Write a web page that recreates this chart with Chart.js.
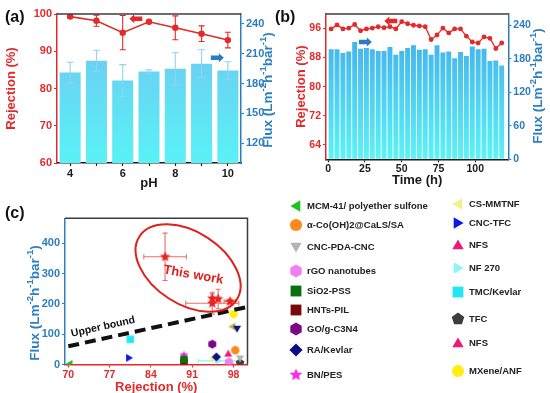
<!DOCTYPE html>
<html>
<head>
<meta charset="utf-8">
<title>Rejection and flux</title>
<script src="https://cdn.jsdelivr.net/npm/chart.js@4/dist/chart.umd.min.js"></script>
<style>
  body { margin: 0; background: #fff; }
  #page { position: relative; width: 550px; height: 393px; overflow: hidden; font-family: "Liberation Sans", Arial, sans-serif; }
  canvas.panel { position: absolute; }
  .tag { position: absolute; font-weight: bold; font-size: 16px; line-height: 18px; color: #111; }
  .item { position: absolute; font-weight: bold; font-size: 9.5px; line-height: 12px; color: #222; white-space: nowrap; }
  .icon { position: absolute; }
</style>
</head>
<body>
<div id="page">
  <canvas id="chartA" class="panel" width="276" height="195" style="left:0;top:0"></canvas>
  <canvas id="chartB" class="panel" width="260" height="195" style="left:290px;top:0"></canvas>
  <canvas id="chartC" class="panel" width="276" height="200" style="left:0;top:195px"></canvas>
  <div class="tag" style="left:5px;top:8px">(a)</div>
  <div class="tag" style="left:275px;top:8px">(b)</div>
  <div class="tag" style="left:5px;top:204px">(c)</div>
  <div id="legend"></div>
</div>
<script>
// (a) rejection / flux vs pH
const phLabels = ['4', '5', '6', '7', '8', '9', '10'];
const phRejection = [99.3, 98.2, 95.0, 97.9, 96.3, 94.7, 93.0];
const phRejectionErr = [0.3, 1.5, 4.6, 0.3, 3.2, 2.1, 2.1];
const phFlux = [191, 203, 183, 192, 195, 200, 193];
const phFluxErr = [10.5, 10.5, 16, 1.7, 16, 14, 9];

// (b) long-term run
const timeHours = [2, 6, 10, 14, 18, 22, 26, 30, 34, 38, 42, 46, 50, 54, 58,
  62, 66, 70, 74, 78, 82, 86, 90, 94, 98, 102, 106, 110, 114, 118];
const timeRejection = [95.9, 97.0, 95.9, 96.1, 97.1, 95.4, 95.9, 96.1, 96.5, 96.2, 96.5, 95.9, 97.9, 97.3, 96.9,
  96.7, 96.5, 93.0, 94.2, 96.1, 94.8, 95.9, 95.9, 93.9, 92.3, 92.0, 93.7, 93.3, 90.5, 92.0];
const timeFlux = [197, 197, 190, 193, 210, 198, 199, 197, 194, 194, 201, 187, 194, 199, 204,
  196, 197, 187, 204, 191, 193, 181, 192, 185, 202, 197, 198, 176, 177, 168];

// (c) comparison with literature
const workRejection = [86.4, 94.4, 94.4, 95.4, 97.4];
const workFlux = [355, 218, 202, 216, 208];
const workRejectionErr = [3.6, 0, 4.5, 0, 1];
const workFluxErr = [78, 15, 36, 32, 8];

const litNames = ['MCM-41/ polyether sulfone', 'α-Co(OH)2@CaLS/SA', 'CNC-PDA-CNC', 'rGO nanotubes', 'SiO2-PSS',
  'HNTs-PIL', 'GO/g-C3N4', 'RA/Kevlar', 'BN/PES', 'CS-MMTNF', 'CNC-TFC', 'NFS', 'NF 270', 'TMC/Kevlar', 'TFC',
  'NFS', 'MXene/ANF'];
const litRejection = [70.2, 98.3, 99.1, 97.2, 89.6, 89.6, 94.4, 95.1, 89.6, 94.4, 80.3, 97.1, 95.4, 80.5, 99.1, 97.3, 98.0];
const litFlux = [2, 47, 20, 8, 17, 7, 67, 25, 31, 20, 22, 36, 12, 83, 5, 10, 166];
const litRejectionErr = [0, 0, 0, 0, 0, 0, 0, 0, 0, 0, 0, 0, 3.4, 0, 0, 0, 0];
const extraRejection = [98.6, 97.8];
const extraFlux = [118, 125];
const upperBoundRejection = [70, 100.4];
const upperBoundFlux = [60, 190];

// tick labels
const aRejTicks = [60, 70, 80, 90, 100];
const aFluxTicks = [120, 150, 180, 210, 240];
const bRejTicks = [64, 72, 80, 88, 96];
const bFluxTicks = [0, 60, 120, 180, 240];
const bTimeTicks = [0, 25, 50, 75, 100];
const cRejTicks = [70, 77, 84, 91, 98];
const cFluxTicks = [0, 100, 200, 300, 400];

// marker styles for (c)
const litShapes = ['left', 'circle', 'down', 'hexagon', 'square', 'square', 'hexagon', 'diamond', 'star',
  'left', 'right', 'up', 'right', 'square', 'pentagon', 'up', 'circle'];
const litColors = ['#1ec41e', '#ff8a1c', '#b4b4b4', '#f27ff2', '#0c700c', '#7a0a0a', '#7a0a84', '#0d0d85', '#ff2bf0',
  '#f4f08a', '#0a1ae6', '#ee1a78', '#8ef4f4', '#22e6f2', '#3d3d3d', '#ee1a78', '#ffee10'];
const extraShapes = ['down', 'left'];
const extraColors = ['#10157a', '#b9ad4a'];

const RED = '#e32a2a', BLUE = '#2d7fc0', INK = '#1a1a1a', FRAME = '#3c3c3c';
const FONT = '"Liberation Sans", Arial, sans-serif';
Chart.defaults.font.family = FONT;
Chart.defaults.font.weight = 'bold';
Chart.defaults.font.size = 11;

function polygon(g, cx, cy, r, n, startDeg) {
  for (let k = 0; k < n; k++) {
    const a = (startDeg + 360 * k / n) * Math.PI / 180;
    const px = cx + r * Math.cos(a), py = cy + r * Math.sin(a);
    if (k) g.lineTo(px, py); else g.moveTo(px, py);
  }
  g.closePath();
}

function makeMarker(shape, color, r) {
  const s = Math.ceil(r * 2) + 2;
  const c = document.createElement('canvas');
  c.width = s; c.height = s;
  const g = c.getContext('2d');
  const m = s / 2;
  g.fillStyle = color;
  g.beginPath();
  if (shape === 'circle') g.arc(m, m, r * 0.92, 0, Math.PI * 2);
  else if (shape === 'square') g.rect(m - r * 0.82, m - r * 0.82, r * 1.64, r * 1.64);
  else if (shape === 'diamond') polygon(g, m, m, r, 4, -90);
  else if (shape === 'up') polygon(g, m, m + r * 0.15, r, 3, -90);
  else if (shape === 'down') polygon(g, m, m - r * 0.15, r, 3, 90);
  else if (shape === 'left') polygon(g, m + r * 0.15, m, r, 3, 180);
  else if (shape === 'right') polygon(g, m - r * 0.15, m, r, 3, 0);
  else if (shape === 'hexagon') polygon(g, m, m, r, 6, -90);
  else if (shape === 'pentagon') polygon(g, m, m, r, 5, -90);
  else if (shape === 'star') {
    for (let k = 0; k < 10; k++) {
      const a = (-90 + 36 * k) * Math.PI / 180, rr = k % 2 ? r * 0.45 : r;
      if (k) g.lineTo(m + rr * Math.cos(a), m + rr * Math.sin(a));
      else g.moveTo(m + rr * Math.cos(a), m + rr * Math.sin(a));
    }
    g.closePath();
  }
  g.fill();
  return c;
}

function fixTicks(values) { return scale => { scale.ticks = values.map(v => ({ value: v })); }; }
function fitWidth(w) { return scale => { scale.width = w; }; }
function fitHeight(h) { return scale => { scale.height = h; }; }

function barGradient(top, bottom) {
  return ctx => {
    const area = ctx.chart.chartArea;
    if (!area) return bottom;
    const g = ctx.chart.ctx.createLinearGradient(0, area.top, 0, area.bottom);
    g.addColorStop(0, top);
    g.addColorStop(1, bottom);
    return g;
  };
}

function sideAxis(color, position, width, min, max, tickList, titleText) {
  return {
    position, min, max,
    grid: { display: true, drawOnChartArea: false, tickLength: 3, tickColor: color, tickWidth: 1.2 },
    border: { display: true, color, width: 1.5 },
    ticks: { color, padding: 2 },
    title: { display: !!titleText, text: titleText, color, font: { size: 13, weight: 'bold' }, padding: { top: 4, bottom: 0 } },
    afterBuildTicks: fixTicks(tickList),
    afterFit: fitWidth(width)
  };
}

function drawFluxTitle(ctx, cx, cy, color) {
  const parts = [['Flux (Lm', 0], ['-2', 1], ['h', 0], ['-1', 1], ['bar', 0], ['-1', 1], [')', 0]];
  const big = 'bold 13.5px ' + FONT, small = 'bold 9.5px ' + FONT;
  ctx.save();
  ctx.translate(cx, cy);
  ctx.rotate(-Math.PI / 2);
  ctx.fillStyle = color;
  ctx.textBaseline = 'middle';
  ctx.textAlign = 'left';
  let total = 0;
  parts.forEach(([t, sup]) => { ctx.font = sup ? small : big; total += ctx.measureText(t).width; });
  let x = -total / 2;
  parts.forEach(([t, sup]) => {
    ctx.font = sup ? small : big;
    ctx.fillText(t, x, sup ? -4.5 : 0);
    x += ctx.measureText(t).width;
  });
  ctx.restore();
}

function drawArrow(ctx, x, y, dir, color) {
  const len = 13, shaft = 4.5, headLen = 5, headHalf = 4.5;
  const tip = x + dir * len / 2, tail = x - dir * len / 2, neck = tip - dir * headLen;
  ctx.fillStyle = color;
  ctx.beginPath();
  ctx.moveTo(tail, y - shaft / 2);
  ctx.lineTo(neck, y - shaft / 2);
  ctx.lineTo(neck, y - headHalf);
  ctx.lineTo(tip, y);
  ctx.lineTo(neck, y + headHalf);
  ctx.lineTo(neck, y + shaft / 2);
  ctx.lineTo(tail, y + shaft / 2);
  ctx.closePath();
  ctx.fill();
}

// error bars from dataset errX / errY arrays
function drawErrors(chart, behind) {
  const ctx = chart.ctx;
  chart.data.datasets.forEach((ds, i) => {
    if ((!ds.errY && !ds.errX) || !!ds.errBehind !== behind) return;
    const meta = chart.getDatasetMeta(i);
    const xs = chart.scales[meta.xAxisID], ys = chart.scales[meta.yAxisID];
    const cap = ds.errCap || 3;
    ctx.save();
    ctx.strokeStyle = ds.errColor;
    ctx.lineWidth = 1.1;
    meta.data.forEach((el, j) => {
      const d = ds.data[j];
      const yv = typeof d === 'object' ? d.y : d;
      const px = el.x, py = ys.getPixelForValue(yv);
      ctx.beginPath();
      if (ds.errY && ds.errY[j]) {
        const t = ys.getPixelForValue(yv + ds.errY[j]), b = ys.getPixelForValue(yv - ds.errY[j]);
        ctx.moveTo(px, t); ctx.lineTo(px, b);
        ctx.moveTo(px - cap, t); ctx.lineTo(px + cap, t);
        ctx.moveTo(px - cap, b); ctx.lineTo(px + cap, b);
      }
      if (ds.errX && ds.errX[j]) {
        const l = xs.getPixelForValue(d.x - ds.errX[j]), r = xs.getPixelForValue(d.x + ds.errX[j]);
        ctx.moveTo(l, py); ctx.lineTo(r, py);
        ctx.moveTo(l, py - cap); ctx.lineTo(l, py + cap);
        ctx.moveTo(r, py - cap); ctx.lineTo(r, py + cap);
      }
      ctx.stroke();
    });
    ctx.restore();
  });
}

const errorBars = {
  id: 'errorBars',
  beforeDatasetsDraw(chart) { drawErrors(chart, true); },
  afterDatasetsDraw(chart) { drawErrors(chart, false); }
};

const decor = {
  id: 'decor',
  afterDraw(chart, args, opts) {
    const ctx = chart.ctx, area = chart.chartArea;
    ctx.save();
    ctx.strokeStyle = FRAME;
    ctx.lineWidth = 1.5;
    ctx.beginPath();
    ctx.moveTo(area.left, area.top);
    ctx.lineTo(area.right, area.top);
    if (opts.rightFrame) ctx.lineTo(area.right, area.bottom);
    ctx.stroke();
    (opts.arrows || []).forEach(a => {
      drawArrow(ctx, chart.scales.x.getPixelForValue(a.x), chart.scales[a.axis].getPixelForValue(a.y), a.dir, a.color);
    });
    if (opts.ellipse) {
      const e = opts.ellipse;
      ctx.strokeStyle = e.color;
      ctx.lineWidth = 2;
      ctx.beginPath();
      ctx.ellipse(chart.scales.x.getPixelForValue(e.x), chart.scales.y.getPixelForValue(e.y),
        e.rx, e.ry, e.angle * Math.PI / 180, 0, Math.PI * 2);
      ctx.stroke();
    }
    (opts.notes || []).forEach(n => {
      ctx.save();
      ctx.translate(chart.scales.x.getPixelForValue(n.x), chart.scales.y.getPixelForValue(n.y));
      ctx.rotate(n.angle * Math.PI / 180);
      ctx.font = n.font;
      ctx.fillStyle = n.color;
      ctx.textAlign = 'center';
      ctx.textBaseline = 'middle';
      ctx.fillText(n.text, 0, 0);
      ctx.restore();
    });
    if (opts.fluxTitle) drawFluxTitle(ctx, opts.fluxTitle.x, opts.fluxTitle.y, BLUE);
    ctx.restore();
  }
};

Chart.register(errorBars, decor);

const baseOptions = {
  responsive: false,
  animation: false,
  events: []
};

// ---------- (a) ----------
new Chart(document.getElementById('chartA'), {
  type: 'bar',
  data: {
    labels: phLabels,
    datasets: [
      {
        type: 'line', label: 'Rejection', data: phRejection, yAxisID: 'y',
        borderColor: RED, backgroundColor: RED, borderWidth: 1.6, pointRadius: 2.4, order: 0,
        errY: phRejectionErr, errColor: RED, errCap: 3
      },
      {
        type: 'bar', label: 'Flux', data: phFlux, yAxisID: 'y1',
        backgroundColor: barGradient('#72c2f1', '#59f2f6'), barPercentage: 0.8, categoryPercentage: 1, order: 1,
        errY: phFluxErr, errColor: '#8fd4f4', errCap: 3.5
      }
    ]
  },
  options: {
    ...baseOptions,
    layout: { padding: { top: 14 } },
    plugins: {
      legend: { display: false }, tooltip: { enabled: false },
      decor: {
        arrows: [{ x: 2.5, y: 98.7, axis: 'y', dir: -1, color: RED }, { x: 5.6, y: 206, axis: 'y1', dir: 1, color: '#2c7dbf' }],
        fluxTitle: { x: 268, y: 90 }
      }
    },
    scales: {
      x: {
        offset: true,
        grid: { display: true, drawOnChartArea: false, offset: false, tickLength: 3, tickColor: INK, tickWidth: 1.2 },
        border: { color: INK, width: 1.5 },
        ticks: { color: INK, padding: 1, autoSkip: false, maxRotation: 0,
          callback: (v, i) => (Number(phLabels[i]) % 2 === 0 ? phLabels[i] : '') },
        title: { display: true, text: 'pH', color: INK, font: { size: 13, weight: 'bold' }, padding: { top: 0, bottom: 4 } },
        afterFit: fitHeight(32)
      },
      y: sideAxis(RED, 'left', 57, 60, 100, aRejTicks, 'Rejection (%)'),
      y1: sideAxis('#2c7dbf', 'right', 35, 100, 250, aFluxTicks)
    }
  }
});

// ---------- (b) ----------
const bLeft = sideAxis(RED, 'left', 36, 60, 100, bRejTicks, 'Rejection (%)');
bLeft.ticks.font = { size: 10.5 };
const bRight = sideAxis('#2c7dbf', 'right', 41.7, 0, 260, bFluxTicks);
bRight.ticks.font = { size: 10.5 };
new Chart(document.getElementById('chartB'), {
  type: 'bar',
  data: {
    datasets: [
      {
        type: 'line', label: 'Rejection', yAxisID: 'y',
        data: timeHours.map((t, i) => ({ x: t, y: timeRejection[i] })),
        borderColor: RED, backgroundColor: RED, borderWidth: 1.3, pointRadius: 1.8, order: 0
      },
      {
        type: 'bar', label: 'Flux', yAxisID: 'y1',
        data: timeHours.map((t, i) => ({ x: t, y: timeFlux[i] })),
        backgroundColor: barGradient('#3ea5e9', '#5cf3f7'), barPercentage: 0.84, categoryPercentage: 1, order: 1
      }
    ]
  },
  options: {
    ...baseOptions,
    layout: { padding: { top: 14 } },
    plugins: {
      legend: { display: false }, tooltip: { enabled: false },
      decor: {
        arrows: [{ x: 42.6, y: 98.1, axis: 'y', dir: -1, color: RED }, { x: 25.3, y: 210, axis: 'y1', dir: 1, color: '#2c7dbf' }],
        fluxTitle: { x: 248, y: 86 }
      }
    },
    scales: {
      x: {
        type: 'linear', min: -1.5, max: 122.5, offset: false,
        grid: { display: true, drawOnChartArea: false, offset: false, tickLength: 3, tickColor: INK, tickWidth: 1.2 },
        border: { color: INK, width: 1.5 },
        ticks: { color: INK, padding: 1, font: { size: 10.5 } },
        afterBuildTicks: fixTicks(bTimeTicks),
        title: { display: true, text: 'Time (h)', color: INK, font: { size: 13, weight: 'bold' }, padding: { top: 0, bottom: 7 } },
        afterFit: fitHeight(35.7)
      },
      y: bLeft,
      y1: bRight
    }
  }
});

// ---------- (c) ----------
const litSets = litNames.map((name, i) => ({
  label: name,
  data: [{ x: litRejection[i], y: litFlux[i] }],
  pointStyle: makeMarker(litShapes[i], litColors[i], 4.6),
  pointRadius: 5,
  errX: [litRejectionErr[i]], errColor: litColors[i], errCap: 2, errBehind: true
}));
const extraSets = extraRejection.map((r, i) => ({
  label: 'other',
  data: [{ x: r, y: extraFlux[i] }],
  pointStyle: makeMarker(extraShapes[i], extraColors[i], 4.6),
  pointRadius: 5
}));

const cBottom = {
  type: 'linear', min: 69.44, max: 100.37,
  grid: { display: true, drawOnChartArea: false, tickLength: 3, tickColor: RED, tickWidth: 1.2 },
  border: { color: RED, width: 1.5 },
  ticks: { color: RED, padding: 1, font: { size: 10.5 } },
  afterBuildTicks: fixTicks(cRejTicks),
  title: { display: true, text: 'Rejection (%)', color: RED, font: { size: 13, weight: 'bold' }, padding: { top: 0, bottom: 0 } },
  afterFit: fitHeight(30.5)
};

new Chart(document.getElementById('chartC'), {
  type: 'scatter',
  data: {
    datasets: [
      {
        type: 'line', label: 'Upper bound',
        data: upperBoundRejection.map((r, i) => ({ x: r, y: upperBoundFlux[i] })),
        borderColor: '#111', borderWidth: 4, borderDash: [11, 6], pointRadius: 0, fill: false
      },
      ...litSets,
      ...extraSets,
      {
        label: 'This work',
        data: workRejection.map((r, i) => ({ x: r, y: workFlux[i] })),
        pointStyle: makeMarker('star', '#e8231f', 5.5), pointRadius: 6,
        errX: workRejectionErr, errY: workFluxErr, errColor: '#e8716e', errCap: 2.5, errBehind: true
      }
    ]
  },
  options: {
    ...baseOptions,
    layout: { padding: { top: 23.3, right: 28.5 } },
    plugins: {
      legend: { display: false }, tooltip: { enabled: false },
      decor: {
        rightFrame: true,
        ellipse: { x: 90.3, y: 318, rx: 58, ry: 36, angle: 33, color: '#e0201c' },
        notes: [
          { text: 'This work', x: 91.2, y: 295, angle: 10, color: '#e0201c', font: 'bold 13px ' + FONT },
          { text: 'Upper bound', x: 75.9, y: 124, angle: -12.5, color: '#111', font: 'bold 10.5px ' + FONT }
        ],
        fluxTitle: { x: 35, y: 108 }
      }
    },
    scales: {
      x: cBottom,
      y: sideAxis(BLUE, 'left', 65, 0, 482, cFluxTicks)
    }
  }
});

// ---------- legend for (c) ----------
const legendColumns = [
  { first: 0, count: 9, iconX: 296, textX: 307, rows: [206, 225, 247, 271, 291, 310, 329, 350, 375] },
  { first: 9, count: 8, iconX: 458, textX: 469, rows: [204, 223, 245, 268, 292, 319, 343, 371] }
];
const legendBox = document.getElementById('legend');
legendColumns.forEach(col => {
  for (let k = 0; k < col.count; k++) {
    const i = col.first + k, y = col.rows[k];
    const icon = makeMarker(litShapes[i], litColors[i], 6.6);
    icon.className = 'icon';
    icon.style.left = (col.iconX - icon.width / 2) + 'px';
    icon.style.top = (y - icon.height / 2) + 'px';
    legendBox.appendChild(icon);
    const text = document.createElement('div');
    text.className = 'item';
    text.style.left = col.textX + 'px';
    text.style.top = (y - 6) + 'px';
    text.textContent = litNames[i];
    legendBox.appendChild(text);
  }
});
</script>
</body>
</html>
